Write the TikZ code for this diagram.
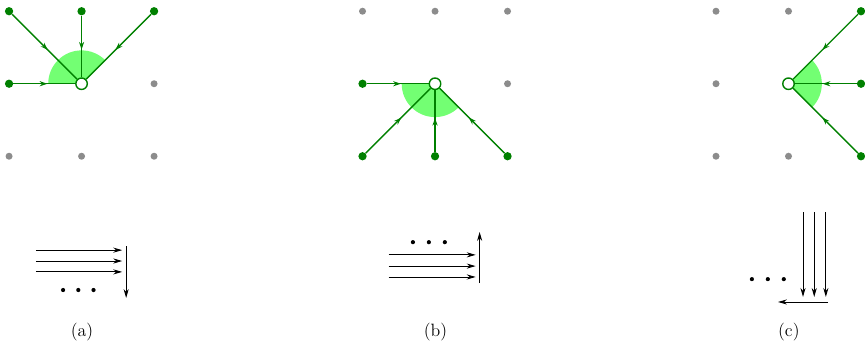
\documentclass[tikz,border=0pt]{standalone}
\usetikzlibrary{arrows.meta,decorations.markings,backgrounds}

\tikzset{
    gridpt/.style={circle, fill=black!45, inner sep=0pt, minimum size=5.5pt},
    srcpt/.style={circle, fill=green!50!black, inner sep=0pt, minimum size=6.5pt},
    tgtpt/.style={circle, draw=green!50!black, fill=white, line width=1.1pt, inner sep=0pt, minimum size=9pt},
    flow/.style={green!50!black, line width=1.1pt, postaction={decorate},
        decoration={markings, mark=at position 0.55 with {\arrow{Stealth[length=6pt,width=4pt]}}}},
    wedge/.style={fill=green!55},
    seq/.style={-{Stealth[length=7pt,width=4pt]}, line width=0.7pt},
    dotpt/.style={circle, fill=black, inner sep=0pt, minimum size=3.3pt},
    lbl/.style={font=\fontsize{14}{16}\selectfont},
}

\begin{document}
\begin{tikzpicture}
    \useasboundingbox (0,0) rectangle (23.86,9.71);

    % (a) oben
    \begin{scope}
        \node[tgtpt] (a11) at (2.25,7.4) {};
        \begin{scope}[on background layer]
            \fill[wedge] (a11.center) -- ++(45:0.92) arc[start angle=45, end angle=180, radius=0.92] -- cycle;
        \end{scope}
        \foreach \i/\j in {2/1,0/0,1/0,2/0}
            \node[gridpt] (a\i\j) at (0.25+2*\i, 5.4+2*\j) {};
        \foreach \i/\j in {0/2,1/2,2/2,0/1} {
            \node[srcpt] (a\i\j) at (0.25+2*\i, 5.4+2*\j) {};
            \draw[flow] (a\i\j) -- (a11);
        }
    \end{scope}

    % (b) oben
    \begin{scope}[xshift=9.75cm]
        \node[tgtpt] (b11) at (2.25,7.4) {};
        \begin{scope}[on background layer]
            \fill[wedge] (b11.center) -- ++(180:0.92) arc[start angle=180, end angle=315, radius=0.92] -- cycle;
        \end{scope}
        \foreach \i/\j in {0/2,1/2,2/2,2/1}
            \node[gridpt] (b\i\j) at (0.25+2*\i, 5.4+2*\j) {};
        \foreach \i/\j in {0/1,0/0,1/0,2/0} {
            \node[srcpt] (b\i\j) at (0.25+2*\i, 5.4+2*\j) {};
            \draw[flow] (b\i\j) -- (b11);
        }
    \end{scope}

    % (c) oben
    \begin{scope}[xshift=19.5cm]
        \node[tgtpt] (c11) at (2.25,7.4) {};
        \begin{scope}[on background layer]
            \fill[wedge] (c11.center) -- ++(-45:0.92) arc[start angle=-45, end angle=45, radius=0.92] -- cycle;
        \end{scope}
        \foreach \i/\j in {0/2,1/2,0/1,0/0,1/0}
            \node[gridpt] (c\i\j) at (0.25+2*\i, 5.4+2*\j) {};
        \foreach \i/\j in {2/2,2/1,2/0} {
            \node[srcpt] (c\i\j) at (0.25+2*\i, 5.4+2*\j) {};
            \draw[flow] (c\i\j) -- (c11);
        }
    \end{scope}

    % (a) unten
    \begin{scope}
        \foreach \k/\y in {1/2.81,2/2.51,3/2.21} {
            \coordinate (ahs\k) at (0.99,\y);
            \coordinate (ahe\k) at (3.37,\y);
            \draw[seq] (ahs\k) -- (ahe\k);
        }
        \coordinate (avs) at (3.48,2.92);
        \coordinate (ave) at (3.48,1.49);
        \draw[seq] (avs) -- (ave);
        \foreach \k/\x in {1/1.74,2/2.16,3/2.58}
            \node[dotpt] (ad\k) at (\x,1.71) {};
        \node[lbl] (la) at (2.26,0.56) {(a)};
    \end{scope}

    % (b) unten
    \begin{scope}[xshift=9.75cm]
        \foreach \k/\y in {1/2.68,2/2.37,3/2.07} {
            \coordinate (bhs\k) at (0.97,\y);
            \coordinate (bhe\k) at (3.37,\y);
            \draw[seq] (bhs\k) -- (bhe\k);
        }
        \coordinate (bvs) at (3.48,1.90);
        \coordinate (bve) at (3.48,3.31);
        \draw[seq] (bvs) -- (bve);
        \foreach \k/\x in {1/1.64,2/2.08,3/2.52}
            \node[dotpt] (bd\k) at (\x,3.03) {};
        \node[lbl] (lb) at (2.26,0.56) {(b)};
    \end{scope}

    % (c) unten
    \begin{scope}[xshift=19.5cm]
        \foreach \k/\x in {1/2.65,2/2.96,3/3.28} {
            \coordinate (cvs\k) at (\x,3.86);
            \coordinate (cve\k) at (\x,1.52);
            \draw[seq] (cvs\k) -- (cve\k);
        }
        \coordinate (chs) at (3.34,1.38);
        \coordinate (che) at (1.96,1.38);
        \draw[seq] (chs) -- (che);
        \foreach \k/\x in {1/1.24,2/1.68,3/2.12}
            \node[dotpt] (cd\k) at (\x,2.01) {};
        \node[lbl] (lc) at (2.26,0.56) {(c)};
    \end{scope}
\end{tikzpicture}
\end{document}
